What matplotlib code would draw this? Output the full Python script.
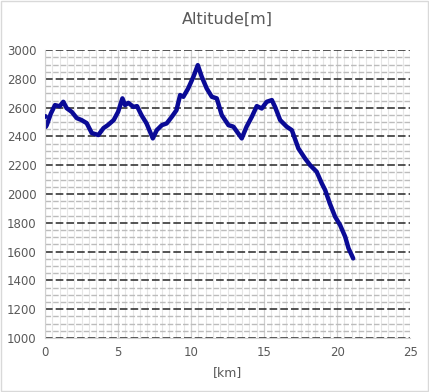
import numpy as np
import matplotlib
matplotlib.use("Agg")
import matplotlib.pyplot as plt
from matplotlib.ticker import MultipleLocator

# distance [km] and altitude [m]
km = [0.0, 0.05, 0.12, 0.4, 0.68, 1.0, 1.25, 1.48, 1.83, 2.17, 2.5, 2.85, 3.2,
      3.65, 4.0, 4.3, 4.7, 5.0, 5.3, 5.48, 5.7, 6.05, 6.3, 6.6, 6.95, 7.38,
      7.65, 8.0, 8.33, 8.68, 9.0, 9.25, 9.47, 9.8, 10.16, 10.46, 10.73, 11.07,
      11.42, 11.76, 12.1, 12.56, 12.9, 13.47, 13.8, 14.16, 14.5, 14.84, 15.18,
      15.53, 15.75, 16.1, 16.55, 16.9, 17.35, 17.8, 18.15, 18.6, 18.95, 19.18,
      19.5, 19.86, 20.2, 20.55, 20.78, 21.1]
alt = [2493, 2467, 2480, 2560, 2618, 2610, 2641, 2597, 2571, 2528, 2514, 2493,
       2424, 2410, 2458, 2479, 2514, 2571, 2665, 2618, 2634, 2606, 2611, 2549,
       2491, 2387, 2444, 2479, 2491, 2537, 2583, 2688, 2676, 2734, 2815, 2896,
       2815, 2734, 2676, 2665, 2549, 2479, 2468, 2387, 2468, 2537, 2611, 2595,
       2641, 2653, 2606, 2514, 2468, 2444, 2317, 2248, 2201, 2155, 2074, 2028,
       1935, 1843, 1785, 1704, 1623, 1553]
stray_km = [0.0]
stray_alt = [2540]

grey = "#595959"

fig = plt.figure(figsize=(4.29, 3.92), dpi=100)
fig.patch.set_facecolor("white")
ax = fig.add_axes([0.105, 0.138, 0.851, 0.734])

ax.set_xlim(0, 25)
ax.set_ylim(1000, 3000)
ax.xaxis.set_major_locator(MultipleLocator(5))
ax.xaxis.set_minor_locator(MultipleLocator(0.5))
ax.yaxis.set_major_locator(MultipleLocator(200))
ax.yaxis.set_minor_locator(MultipleLocator(50))

ax.grid(True, axis="x", which="minor", color="#e6e6e6", lw=0.8, ls="-")
ax.grid(True, axis="x", which="major", color="#d0d0d0", lw=0.9, ls="-")
ax.grid(True, axis="y", which="minor", color="#bcbcbc", lw=1.0, ls=(0, (4, 1.5)))
ax.grid(True, axis="y", which="major", color="#262626", lw=1.1, ls=(0, (5, 2)))
ax.set_axisbelow(True)

ax.plot(km, alt, color="#0a0a96", lw=3.2, solid_capstyle="round",
        solid_joinstyle="round")
ax.scatter(stray_km, stray_alt, color="#0a0a96", s=6, zorder=3)

for s in ["top", "right"]:
    ax.spines[s].set_visible(False)
for s in ["left", "bottom"]:
    ax.spines[s].set_color("#d0d0d0")

ax.tick_params(which="both", length=0, colors=grey, labelsize=8.5, pad=6)
ax.set_xlabel("[km]", color=grey, fontsize=9, labelpad=5)
ax.set_title("Altitude[m]", color=grey, fontsize=11.5, pad=19)

fig.add_artist(plt.Rectangle((0.002, 0.002), 0.996, 0.996, fill=False,
                             edgecolor="#d9d9d9", lw=1, transform=fig.transFigure))

fig.savefig("out.png", dpi=100)
